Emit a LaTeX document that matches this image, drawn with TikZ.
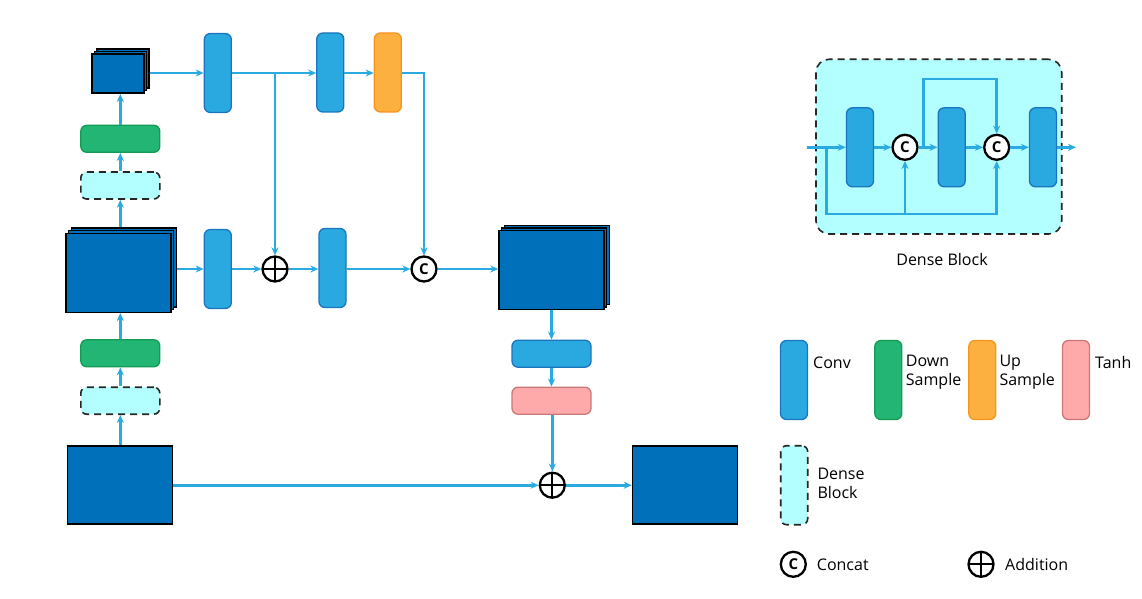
\documentclass[tikz,border=0pt]{standalone}
\usepackage{fontspec}
\setmainfont{Open Sans}
\usetikzlibrary{arrows.meta,calc}
\definecolor{ln}{HTML}{29ABE2}
\definecolor{convf}{HTML}{29A9E0}
\definecolor{convd}{HTML}{1B75BC}
\definecolor{grnf}{HTML}{23B574}
\definecolor{grnd}{HTML}{139A55}
\definecolor{orgf}{HTML}{FBB040}
\definecolor{orgd}{HTML}{F7941D}
\definecolor{pnkf}{HTML}{FFAAAA}
\definecolor{pnkd}{HTML}{C97878}
\definecolor{dnsf}{HTML}{B3FFFF}
\definecolor{fmb}{HTML}{0070BA}
\begin{document}
\begin{tikzpicture}[x=1pt,y=-1pt,
  font=\fontsize{16}{19}\selectfont,
  blk/.style={rounded corners=6pt,inner sep=0pt,line width=1.3pt},
  vblk/.style={blk,minimum width=27pt,minimum height=79pt},
  hblk/.style={blk,minimum width=79pt,minimum height=27pt},
  convc/.style={fill=convf,draw=convd},
  grnc/.style={fill=grnf,draw=grnd},
  orgc/.style={fill=orgf,draw=orgd},
  pnkc/.style={fill=pnkf,draw=pnkd},
  dnsc/.style={fill=dnsf,draw=black!85,dash pattern=on 7pt off 5pt,line width=1.6pt},
  fmap/.style={draw=black,fill=fmb,line width=1.5pt,inner sep=0pt},
  fsmall/.style={fmap,minimum width=52pt,minimum height=39pt},
  fbig/.style={fmap,minimum width=105pt,minimum height=79pt},
  arr/.style={draw=ln,line width=2.8pt,-{Stealth[length=8pt,width=7pt]}},
  opc/.style={circle,draw=black,line width=2.3pt,fill=white,minimum size=25pt,inner sep=0pt},
  cat/.style={opc,font=\fontsize{15}{15}\selectfont\bfseries},
  add/.style={opc,path picture={\draw[black,line width=2pt]
     (path picture bounding box.north)--(path picture bounding box.south)
     (path picture bounding box.west)--(path picture bounding box.east);}},
  lbl/.style={anchor=west,align=left,inner sep=0pt}
]
\useasboundingbox (0,0) rectangle (1142,599);

% ---------- feature maps ----------
\node[fsmall] (fsb) at (123.2,68.3) {};
\node[fsmall] (fsm) at (120.5,71.0) {};
\node[fsmall] (fsf) at (117.8,73.7) {};

\node[fbig] (msb) at (123.8,267.4) {};
\node[fbig] (msm) at (121.1,270.1) {};
\node[fbig] (msf) at (118.4,272.8) {};

\node[fbig] (rsb) at (556.9,264.8) {};
\node[fbig] (rsm) at (554.2,267.5) {};
\node[fbig] (rsf) at (551.5,270.2) {};

\node[fbig,minimum height=78pt] (in) at (120,485.2) {};
\node[fbig,minimum height=78pt] (out) at (685,485.2) {};

% ---------- left column ----------
\node[hblk,dnsc] (dl) at (120.3,400.7) {};
\node[hblk,grnc] (gl) at (120.3,353.3) {};
\node[hblk,dnsc] (dt) at (120.3,185.5) {};
\node[hblk,grnc] (gt) at (120.3,138.8) {};

% ---------- top row ----------
\node[vblk,convc] (c1) at (217.8,73) {};
\node[vblk,convc] (c2) at (330.3,72.5) {};
\node[vblk,orgc] (up) at (387.8,72.5) {};

% ---------- middle row ----------
\node[vblk,convc] (cm1) at (217.8,269) {};
\node[add] (ad1) at (275,269) {};
\node[vblk,convc] (cm2) at (332.5,268) {};
\node[cat] (ct) at (424,269) {C};

% ---------- right column ----------
\node[hblk,convc] (hc) at (551.5,353.7) {};
\node[hblk,pnkc] (th) at (551.5,400.7) {};
\node[add] (ad2) at (552.3,485.2) {};

% ---------- connectors ----------
\draw[arr] (in.north -| dl.south) -- (dl.south);
\draw[arr] (dl.north) -- (gl.south);
\draw[arr] (gl.north) -- (gl.north |- msf.south);
\draw[arr] (dt.south |- msb.north) -- (dt.south);
\draw[arr] (dt.north) -- (gt.south);
\draw[arr] (gt.north) -- (gt.north |- fsf.south);

\draw[arr] (fsb.east |- c1.west) -- (c1.west);
\draw[arr] (c1.east) -- (c2.west |- c1.east);
\draw[arr] (ad1.north |- c1.east) -- (ad1.north);
\draw[arr] (c2.east |- c1.east) -- (up.west |- c1.east);
\draw[arr] (up.east |- c1.east) -| (ct.north);

\draw[arr] (msb.east |- cm1.west) -- (cm1.west);
\draw[arr] (cm1.east) -- (ad1.west);
\draw[arr] (ad1.east) -- (cm2.west |- ad1.east);
\draw[arr] (cm2.east |- ct.west) -- (ct.west);
\draw[arr] (ct.east) -- (rsf.west |- ct.east);

\draw[arr] (hc.north |- rsf.south) -- (hc.north);
\draw[arr] (hc.south) -- (th.north);
\draw[arr] (th.south -| ad2.north) -- (ad2.north);
\draw[arr] (in.east) -- (ad2.west);
\draw[arr] (ad2.east) -- (out.west);

% ---------- dense block detail ----------
\node[draw=black!85,fill=dnsf,dash pattern=on 7pt off 5pt,line width=1.6pt,
      rounded corners=13pt,minimum width=245.7pt,minimum height=174.7pt,inner sep=0pt]
      (db) at (938.85,146.65) {};
\node[vblk,convc] (d1) at (860,147.3) {};
\node[cat] (k1) at (905,147.3) {C};
\node[vblk,convc] (d2) at (951.7,147.3) {};
\node[cat] (k2) at (996.7,147.3) {C};
\node[vblk,convc] (d3) at (1043,147.3) {};
\coordinate (din) at (806.7,147.3);
\coordinate (dout) at (1076,147.3);
\coordinate (dsplit) at (826.7,147.3);
\coordinate (dbot) at (826.7,214);
\coordinate (dtsplit) at (923.3,147.3);
\coordinate (dtop) at (923.3,79);
\draw[arr] (din) -- (d1.west);
\draw[arr] (d1.east) -- (k1.west);
\draw[arr] (k1.east) -- (d2.west);
\draw[arr] (d2.east) -- (k2.west);
\draw[arr] (k2.east) -- (d3.west);
\draw[arr] (d3.east) -- (dout);
\draw[arr] (dsplit) -- (dbot) -| (k2.south);
\draw[arr] (k1.south |- dbot) -- (k1.south);
\draw[arr] (dtsplit) -- (dtop) -| (k2.north);
\node (dbl) at (942,259) {Dense Block};

% ---------- legend ----------
\node[vblk,convc] (lg1) at (794,380) {};
\node[lbl] (lt1) at (813,362.7) {Conv};
\node[vblk,grnc] (lg2) at (888.3,380) {};
\node[lbl] (lt2) at (905.7,372.2) {Down\\Sample};
\node[vblk,orgc] (lg3) at (982.3,380) {};
\node[lbl] (lt3) at (999.3,372.2) {Up\\Sample};
\node[vblk,pnkc] (lg4) at (1076,380) {};
\node[lbl] (lt4) at (1095,362.7) {Tanh};
\node[vblk,dnsc] (lg5) at (794.2,485.2) {};
\node[lbl] (lt5) at (817.3,483) {Dense\\Block};
\node[cat] (lg6) at (793.3,564.3) {C};
\node[lbl] (lt6) at (816.7,564.3) {Concat};
\node[add] (lg7) at (981,564.3) {};
\node[lbl] (lt7) at (1005,564.3) {Addition};
\end{tikzpicture}
\end{document}
